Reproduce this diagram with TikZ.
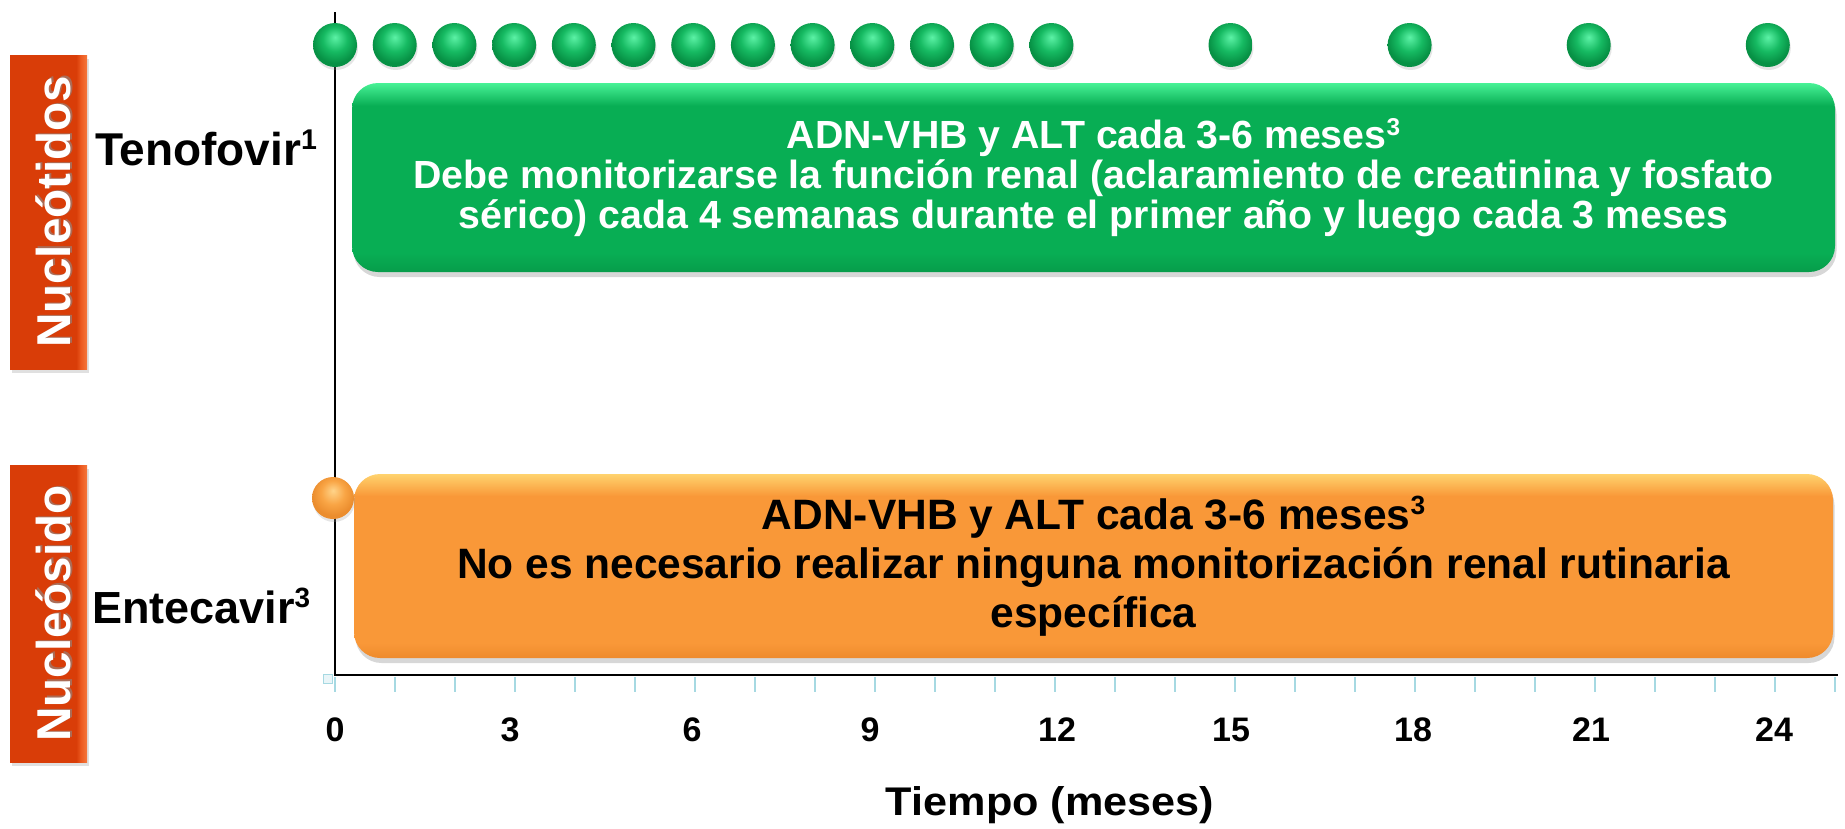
\documentclass[tikz,border=0pt]{standalone}
\usepackage{fontspec}
\usepackage{graphicx}
\setmainfont{Liberation Sans}
\usetikzlibrary{shadows}
\definecolor{gmain}{HTML}{08AE54}
\definecolor{gtop}{HTML}{48F296}
\definecolor{gbot}{HTML}{079C4A}
\definecolor{omain}{HTML}{F99838}
\definecolor{otop}{HTML}{FFD36E}
\definecolor{obot}{HTML}{EE8A2C}
\definecolor{rmain}{HTML}{D93D08}
\definecolor{rlight}{HTML}{EC5A20}
\definecolor{rlight2}{HTML}{F5773C}
\definecolor{tickblue}{HTML}{A6D9E2}
\definecolor{gbA}{HTML}{5CF2A6}
\definecolor{gbB}{HTML}{16BA62}
\definecolor{gbC}{HTML}{079145}
\definecolor{obA}{HTML}{FFD48A}
\definecolor{obB}{HTML}{F9A545}
\definecolor{obC}{HTML}{EB8D2E}
\pgfdeclareverticalshading{greensh}{100bp}{color(0bp)=(gbot); color(25bp)=(gbot); color(30bp)=(gmain); color(69bp)=(gmain); color(75bp)=(gtop); color(100bp)=(gtop)}
\pgfdeclareverticalshading{orangesh}{100bp}{color(0bp)=(obot); color(25bp)=(obot); color(29bp)=(omain); color(69bp)=(omain); color(75bp)=(otop); color(100bp)=(otop)}
\pgfdeclarehorizontalshading{redsh}{100bp}{color(0bp)=(rmain); color(68bp)=(rmain); color(71bp)=(rlight); color(75bp)=(rlight2); color(100bp)=(rlight2)}
\pgfdeclareradialshading{gballsh}{\pgfpoint{0bp}{9bp}}{color(0bp)=(gbA); color(14bp)=(gbB); color(25bp)=(gbC); color(50bp)=(gbC)}
\pgfdeclareradialshading{oballsh}{\pgfpoint{0bp}{9bp}}{color(0bp)=(obA); color(14bp)=(obB); color(25bp)=(obC); color(50bp)=(obC)}
\newcommand{\supr}[1]{\raisebox{0.34em}{\scalebox{0.62}{#1}}}
\begin{document}
\begin{tikzpicture}[x=1pt,y=-1pt,
  every node/.style={inner sep=0pt, outer sep=0pt},
  axisline/.style={line width=2.4pt, black},
  tickmark/.style={line width=2pt, tickblue},
  boxshadow/.style={drop shadow={shadow xshift=1.5pt, shadow yshift=-5pt, fill=black!45, opacity=0.35}},
  gbox/.style={rectangle, rounded corners=26pt, minimum width=1483pt, minimum height=189pt,
    shading=greensh, text=white, align=center, boxshadow,
    font=\fontsize{39.3}{40}\selectfont\bfseries},
  obox/.style={rectangle, rounded corners=26pt, minimum width=1479pt, minimum height=184pt,
    shading=orangesh, text=black, align=center, boxshadow,
    font=\fontsize{42.5}{49}\selectfont\bfseries},
  redbox/.style={rectangle, minimum width=77pt, shading=redsh,
    drop shadow={shadow xshift=2pt, shadow yshift=-4pt, fill=black!40, opacity=0.3}},
  redtext/.style={rotate=90, anchor=base, text=white, font=\fontsize{47.5}{50}\selectfont\bfseries},
  redshade/.style={rotate=90, anchor=base, text=black!45, opacity=0.6, font=\fontsize{47.5}{50}\selectfont\bfseries},
  druglab/.style={anchor=base west, text=black, font=\fontsize{46}{50}\selectfont\bfseries},
  gdot/.style={circle, minimum size=44pt, shading=gballsh,
    drop shadow={shadow xshift=1pt, shadow yshift=-3pt, fill=black!40, opacity=0.25}},
  odot/.style={circle, minimum size=42pt, shading=oballsh,
    drop shadow={shadow xshift=1pt, shadow yshift=-3pt, fill=black!40, opacity=0.25}},
  ticklab/.style={anchor=base, font=\fontsize{34}{36}\selectfont\bfseries},
]
\useasboundingbox (0,0) rectangle (1845,828);
% axes
\coordinate (ytop) at (335,12);
\coordinate (origin) at (335,675);
\coordinate (xend) at (1838,675);
\foreach \k in {0,...,25} {
  \draw[tickmark] ({335+60*\k},677) -- ({335+60*\k},692);
}
\draw[axisline] (ytop) -- (origin) -- (xend);
\node[draw=tickblue, fill=tickblue!25, line width=1pt, minimum size=9pt] (cornermark) at (327.5,679) {};
% tick labels
\node[ticklab] (t0) at (335,741) {0};
\node[ticklab] (t3) at (510,741) {3};
\node[ticklab] (t6) at (692,741) {6};
\node[ticklab] (t9) at (870,741) {9};
\node[ticklab] (t12) at (1057,741) {12};
\node[ticklab] (t15) at (1231,741) {15};
\node[ticklab] (t18) at (1413,741) {18};
\node[ticklab] (t21) at (1591,741) {21};
\node[ticklab] (t24) at (1774,741) {24};
\node[anchor=base, font=\fontsize{40}{42}\selectfont\bfseries] (xtitle) at (1050,815) {\scalebox{1.08}[1]{Tiempo (meses)}};
% boxes
\node[gbox] (tenobox) at (1093.5,177.5) {ADN-VHB y ALT cada 3-6 meses\supr{3}\\Debe monitorizarse la función renal (aclaramiento de creatinina y fosfato\\sérico) cada 4 semanas durante el primer año y luego cada 3 meses};
\node[obox] (entebox) at (1093.5,566) {ADN-VHB y ALT cada 3-6 meses\supr{3}\\No es necesario realizar ninguna monitorización renal rutinaria\\específica};
% dots
\foreach \m in {0,...,12,15,18,21,24} {
  \node[gdot] (d\m) at ({335+59.7*\m},45) {};
}
\node[odot] (od0) at (333,498) {};
% category labels
\node[redbox, minimum height=314pt] (nucbox1) at (48.5,212) {};
\node[redshade] (nucsh1) at (72,210.5) {Nucleótidos};
\node[redtext] (nuctx1) at (70,212) {Nucleótidos};
\node[redbox, minimum height=297pt] (nucbox2) at (48.5,613.5) {};
\node[redshade] (nucsh2) at (72,612) {Nucleósido};
\node[redtext] (nuctx2) at (70,613.5) {Nucleósido};
% drug labels
\node[druglab] (teno) at (95,165) {Tenofovir\supr{1}};
\node[druglab, font=\fontsize{45}{50}\selectfont\bfseries] (ente) at (92,623) {Entecavir\supr{3}};
\end{tikzpicture}
\end{document}
